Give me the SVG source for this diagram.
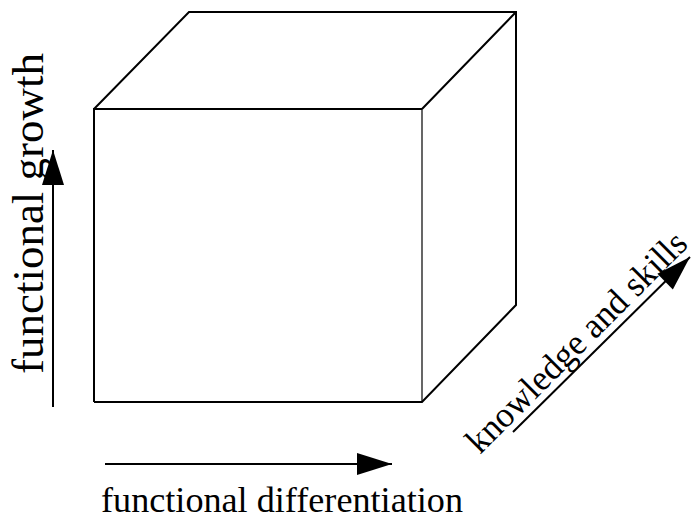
<svg xmlns="http://www.w3.org/2000/svg" width="695" height="522" viewBox="0 0 695 522">
<style>
.edge{fill:none;stroke:#000;stroke-width:2;stroke-linejoin:miter}
.thin{fill:none;stroke:#000;stroke-width:1.2}
.arr{fill:none;stroke:#000;stroke-width:2;marker-end:url(#ah)}
text{fill:#000;font-family:"Liberation Serif","Times New Roman",Times,"DejaVu Serif",serif}
</style>
<defs>
<marker id="ah" markerUnits="userSpaceOnUse" markerWidth="40" markerHeight="30" viewBox="-38 -15 40 30" refX="0" refY="0" orient="auto">
<path d="M0,0 L-35,-11 L-35,11 Z" fill="#000"/>
</marker>
<path id="diag" d="M480,455 L690,245"/>
</defs>
<g id="cube">
<path class="edge" d="M94,402 L94,109 L422,109 M94,109 L189,12 L516,12 L516,305 L422,402 L94,402 M422,109 L516,12"/>
<path class="thin" d="M422,109 L422,402"/>
</g>
<g id="connectors">
<line class="arr" x1="53" y1="407" x2="53" y2="150"/>
<line class="arr" x1="105" y1="464" x2="392" y2="464"/>
<line class="arr" x1="513" y1="432" x2="690" y2="257"/>
</g>
<g id="label-growth">
<text font-size="45" textLength="321" lengthAdjust="spacingAndGlyphs" transform="translate(43,374) rotate(-90)">functional growth</text>
</g>
<g id="label-differentiation">
<text font-size="35" x="101" y="512" textLength="362" lengthAdjust="spacingAndGlyphs">functional differentiation</text>
</g>
<g id="label-knowledge">
<text font-size="36"><textPath href="#diag" textLength="296" lengthAdjust="spacingAndGlyphs">knowledge and skills</textPath></text>
</g>
</svg>
